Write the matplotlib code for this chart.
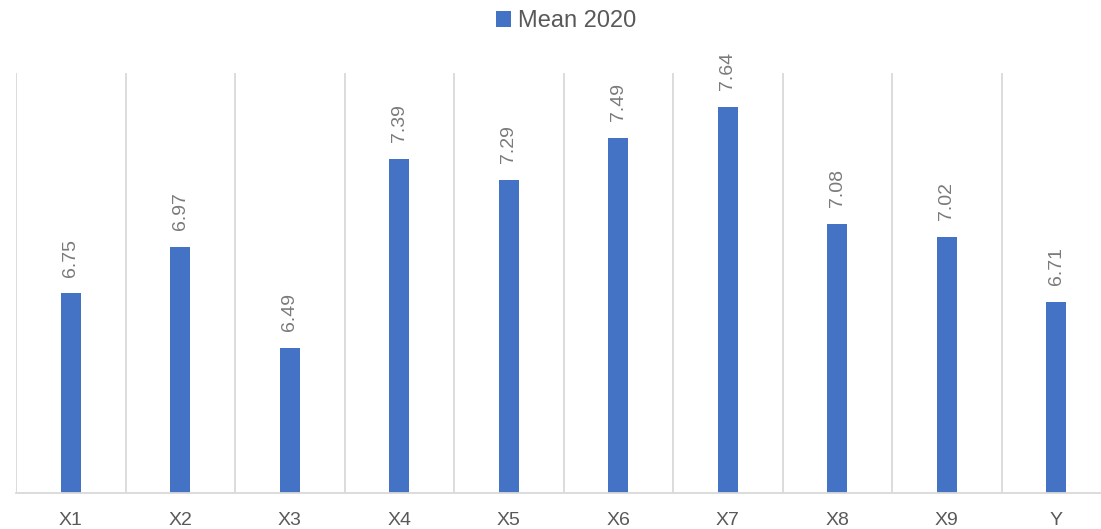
import matplotlib.pyplot as plt

categories = ['X1', 'X2', 'X3', 'X4', 'X5', 'X6', 'X7', 'X8', 'X9', 'Y']
mean_2020 = [6.75, 6.97, 6.49, 7.39, 7.29, 7.49, 7.64, 7.08, 7.02, 6.71]

plt.rcParams['font.family'] = ['Liberation Sans', 'DejaVu Sans']

fig = plt.figure(figsize=(11.01, 5.29), dpi=100)
ax = fig.add_axes([16/1101, 36.5/529, 1095/1101, 419.5/529])

x = range(len(categories))
bars = ax.bar(x, mean_2020, width=0.183, color='#4472C4', label='Mean 2020')
ax.set_ylim(5.8, 7.8)
ax.set_xlim(-0.5, 9.5)

# etiquetas de valor, giradas
for i, v in enumerate(mean_2020):
    ax.annotate(f'{v:.2f}', xy=(i, v), xytext=(0, 12), textcoords='offset points',
                rotation=90, ha='center', va='bottom', fontsize=14, color='#7a7a7a')

# lineas verticales entre categorias
for b in [i - 0.5 for i in range(len(categories) + 1)]:
    ax.axvline(b, color='#d9d9d9', lw=1.3, zorder=0)

ax.set_xticks(list(x))
ax.set_xticklabels(categories, fontsize=14, color='#595959')
ax.tick_params(axis='x', length=0, pad=14)
ax.set_yticks([])
for s in ['top', 'left', 'right']:
    ax.spines[s].set_visible(False)
ax.spines['bottom'].set_color('#d9d9d9')
ax.spines['bottom'].set_linewidth(1.3)

fig.legend(loc='center', bbox_to_anchor=(0.514, 1 - 21/529), frameon=False,
           fontsize=17, labelcolor='#595959', handlelength=0.65, handleheight=0.65,
           handletextpad=0.3)

plt.savefig('out.png', dpi=100)
plt.close()
